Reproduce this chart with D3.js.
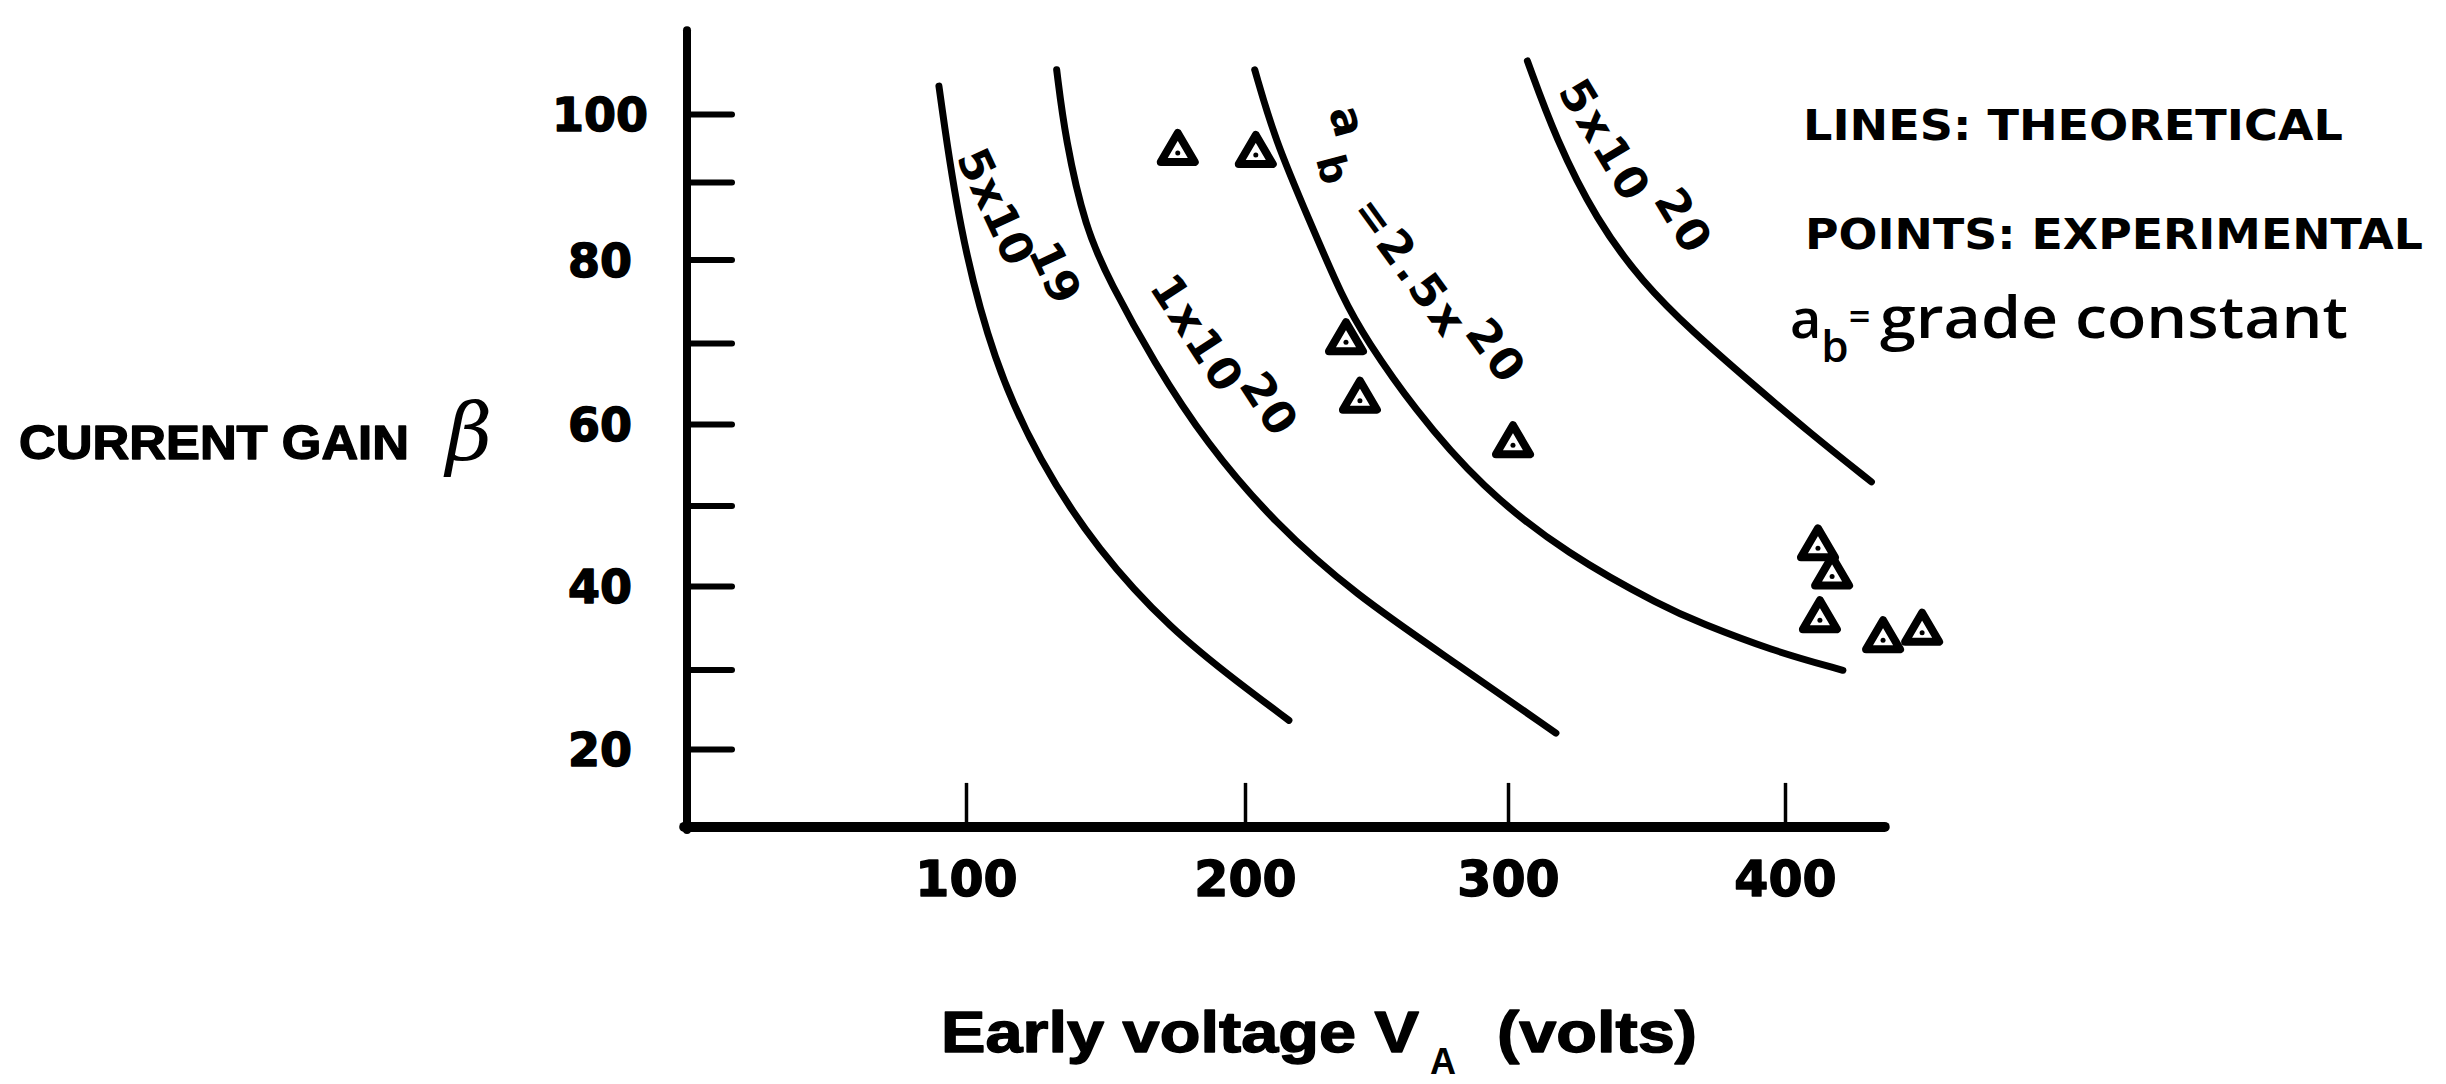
<!DOCTYPE html>
<html>
<head>
<meta charset="utf-8">
<script src="https://cdn.jsdelivr.net/npm/d3@7"></script>
<style>
  html, body { margin: 0; padding: 0; background: #fff; }
  svg { display: block; }
</style>
</head>
<body>
<svg id="chart" width="2446" height="1084"></svg>
<script>
// Axis ticks
const xTickValues = [100, 200, 300, 400];
const yTickValues = [20, 30, 40, 50, 60, 70, 80, 90, 100];
const yTickLabels = [20, 40, 60, 80, 100];

// Theoretical curves: [Early voltage V_A (volts), current gain beta]
const curve5e19 = [[90.3, 104.1], [97.5, 83.9], [109.9, 67.6], [126.2, 55.5], [147, 44.5],
                   [173.7, 34.7], [198.2, 28.2], [216.7, 23.6]];
const curve1e20 = [[132.5, 106.5], [135.6, 96.3], [142.8, 84], [151.6, 77.3], [167.4, 67.6],
                   [186, 57.7], [211.3, 47.8], [241.8, 39], [279, 31], [317.3, 22]];
const curve25e20 = [[203.7, 106.5], [211.3, 96.3], [224.4, 85.1], [237.5, 75.1], [246.2, 70.4],
                    [263.7, 62.1], [289.9, 52.2], [321.5, 43.9], [356.7, 37.4], [369.3, 35.6],
                    [394.9, 32.3], [420.9, 29.9]];
const curve5e20 = [[307, 107.8], [317.3, 96.3], [331.9, 85.1], [348.4, 77.3], [367.1, 71.2],
                   [387.4, 65.2], [409, 58.9], [431.2, 52.9]];

// Experimental points: [V_A, beta]
const experimental = [[175.9, 95], [204.1, 94.7], [238.4, 70.7], [243.7, 63.5], [301.8, 58],
                      [411.9, 45.3], [417, 41.8], [412.6, 36.5], [435.4, 34.1], [449.5, 35]];

// Curve annotations: anchor [V_A, beta], rotation, text parts [text, kind, dx, dy]
const curveLabels = [
  { at: [96.3, 93.6],  angle: 65, ls: 0, parts: [["5x10", "base"], ["19", "sup", -8, -26]] },
  { at: [165.4, 76.7], angle: 57, ls: 2, parts: [["1x10", "base"], ["20", "sup", 0, -22]] },
  { at: [231.8, 100.5], angle: 75, ls: 0, parts: [["a", "base"], ["b", "sub", 13, 25]] },
  { at: [240, 86.3], angle: 54, ls: 3, parts: [["=2.5x", "base"], ["20", "sup", 4, -20]] },
  { at: [317.7, 103.4], angle: 59, ls: 3, parts: [["5x10", "base"], ["20", "sup", 8, -26]] }
];

const svg = d3.select("#chart");

// Hand-ruled axes: tick marks are not perfectly evenly spaced
const x = d3.scaleLinear().domain(xTickValues).range([966, 1245, 1508, 1785]);
const y = d3.scaleLinear().domain(yTickValues)
  .range([749, 669.5, 586, 505.5, 424, 343, 259.5, 182, 114]);

const ink = "#000";
const heavy = sel => sel.attr("stroke", ink).attr("stroke-width", 1.4).attr("stroke-linejoin", "round");

// Y axis
const yAxis = svg.append("g")
  .attr("transform", `translate(${x(0)},0)`)
  .call(d3.axisLeft(y).tickValues(yTickValues).tickSize(-45).tickPadding(0)
    .tickFormat(d => yTickLabels.includes(d) ? d : ""));
yAxis.select(".domain").remove();
yAxis.selectAll(".tick line")
  .attr("stroke", ink).attr("stroke-width", 6).attr("stroke-linecap", "round");
yAxis.selectAll(".tick text")
  .attr("x", -87).attr("dy", "0.36em").attr("text-anchor", "middle")
  .attr("fill", ink)
  .style("font-family", "'DejaVu Sans', sans-serif")
  .style("font-weight", "bold").style("font-size", "46px")
  .call(heavy);
svg.append("line")
  .attr("x1", x(0)).attr("x2", x(0))
  .attr("y1", y(112.3)).attr("y2", y(9.8))
  .attr("stroke", ink).attr("stroke-width", 8).attr("stroke-linecap", "round");

// X axis
const xAxis = svg.append("g")
  .attr("transform", `translate(0,${y(10.2)})`)
  .call(d3.axisBottom(x).tickValues(xTickValues).tickSize(-44).tickPadding(34));
xAxis.select(".domain").remove();
xAxis.selectAll(".tick line")
  .attr("stroke", ink).attr("stroke-width", 3.5);
xAxis.selectAll(".tick text")
  .attr("fill", ink)
  .style("font-family", "'DejaVu Sans', sans-serif")
  .style("font-weight", "bold").style("font-size", "49px")
  .call(heavy);
svg.append("line")
  .attr("x1", x(-1)).attr("x2", x(436))
  .attr("y1", y(10.2)).attr("y2", y(10.2))
  .attr("stroke", ink).attr("stroke-width", 10).attr("stroke-linecap", "round");

// Theoretical curves
const line = d3.line()
  .x(d => x(d[0])).y(d => y(d[1]))
  .curve(d3.curveBasis);
svg.append("g").selectAll("path")
  .data([curve5e19, curve1e20, curve25e20, curve5e20])
  .join("path")
  .attr("d", line)
  .attr("fill", "none").attr("stroke", ink)
  .attr("stroke-width", 7).attr("stroke-linecap", "round");

// Experimental points: bold outlined triangles
const tri = svg.append("g").selectAll("g")
  .data(experimental)
  .join("g")
  .attr("transform", d => `translate(${x(d[0])},${y(d[1])})`);
tri.append("path")
  .attr("d", "M0,-15L17,14L-17,14Z")
  .attr("fill", "#fff").attr("stroke", ink)
  .attr("stroke-width", 8).attr("stroke-linejoin", "round");
tri.append("circle").attr("cx", 0).attr("cy", 5).attr("r", 2.5).attr("fill", ink);

// Grade-constant labels written along the curves
curveLabels.forEach(lab => {
  const t = svg.append("g")
    .attr("transform", `translate(${x(lab.at[0])},${y(lab.at[1])}) rotate(${lab.angle})`)
    .append("text")
    .attr("fill", ink)
    .style("font-family", "'DejaVu Sans', sans-serif")
    .style("font-weight", "bold").style("font-size", "45px")
    .style("letter-spacing", lab.ls + "px");
  lab.parts.forEach(([s, kind, dx, dy]) => {
    const ts = t.append("tspan").text(s);
    if (kind !== "base") ts.attr("dx", dx).attr("dy", dy);
    if (kind === "sub") ts.style("font-size", "40px");
  });
});

// Y axis title
svg.append("text")
  .attr("x", 19).attr("y", 459)
  .attr("textLength", 390).attr("lengthAdjust", "spacingAndGlyphs")
  .attr("fill", ink)
  .style("font-family", "'Liberation Sans', Arial, sans-serif")
  .style("font-weight", "bold").style("font-size", "48px")
  .call(heavy)
  .text("CURRENT GAIN");
svg.append("text")
  .attr("x", 446).attr("y", 460)
  .attr("fill", ink)
  .style("font-family", "'DejaVu Serif', serif")
  .style("font-style", "italic").style("font-size", "80px")
  .text("β");

// X axis title
const titleFont = "'Liberation Sans', Arial, sans-serif";
svg.append("text")
  .attr("x", 941).attr("y", 1052)
  .attr("textLength", 478).attr("lengthAdjust", "spacingAndGlyphs")
  .attr("fill", ink)
  .style("font-family", titleFont)
  .style("font-weight", "bold").style("font-size", "58px")
  .call(heavy)
  .text("Early voltage V");
svg.append("text")
  .attr("x", 1430).attr("y", 1074)
  .attr("fill", ink)
  .style("font-family", titleFont)
  .style("font-weight", "bold").style("font-size", "36px")
  .text("A");
svg.append("text")
  .attr("x", 1497).attr("y", 1052)
  .attr("textLength", 200).attr("lengthAdjust", "spacingAndGlyphs")
  .attr("fill", ink)
  .style("font-family", titleFont)
  .style("font-weight", "bold").style("font-size", "58px")
  .call(heavy)
  .text("(volts)");

// Key
const key = svg.append("g").attr("fill", ink);
key.append("text")
  .attr("x", 1803).attr("y", 140)
  .attr("textLength", 540).attr("lengthAdjust", "spacingAndGlyphs")
  .style("font-family", "'DejaVu Sans', sans-serif")
  .style("font-weight", "bold").style("font-size", "42px")
  .text("LINES: THEORETICAL");
key.append("text")
  .attr("x", 1805).attr("y", 249)
  .attr("textLength", 618).attr("lengthAdjust", "spacingAndGlyphs")
  .style("font-family", "'DejaVu Sans', sans-serif")
  .style("font-weight", "bold").style("font-size", "42px")
  .text("POINTS: EXPERIMENTAL");
const grade = key.append("text")
  .attr("x", 1790).attr("y", 338)
  .style("font-family", "'Open Sans', 'Noto Sans', sans-serif")
  .style("font-weight", 600).style("font-size", "54px");
grade.append("tspan").text("a");
grade.append("tspan").attr("dy", 24).style("font-size", "44px").text("b");
grade.append("tspan").attr("dy", -32).style("font-size", "38px").text("=");
grade.append("tspan").attr("x", 1880).attr("dy", 8)
  .style("font-size", "58px")
  .attr("textLength", 468).attr("lengthAdjust", "spacingAndGlyphs")
  .text("grade constant");
</script>
</body>
</html>
